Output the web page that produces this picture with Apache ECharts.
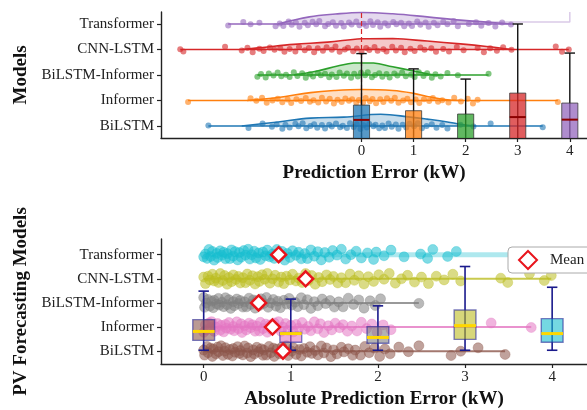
<!DOCTYPE html>
<html>
<head>
<meta charset="utf-8">
<script src="https://cdn.jsdelivr.net/npm/echarts@6/dist/echarts.min.js"></script>
<style>
html, body { margin: 0; padding: 0; background: #fff; }
#chart { width: 587px; height: 410px; }
</style>
</head>
<body>
<div id="chart"></div>
<script>
// rows from bottom to top
const models = ['BiLSTM', 'Informer', 'BiLSTM-Informer', 'CNN-LSTM', 'Transformer'];
const xTicks = [0, 1, 2, 3, 4];

// top panel: signed prediction errors (kW)
const errBiLSTM = [-2.94, -2.17, -1.9, -1.72, -1.63, -1.52, -1.46, -1.38, -1.27, -1.21, -1.13, -1.06, -0.98, -0.91, -0.85, -0.76, -0.7, -0.62, -0.57, -0.49, -0.41, -0.36, -0.28, -0.22, -0.15, -0.09, -0.02, 0.04, 0.1, 0.15, 0.23, 0.27, 0.34, 0.4, 0.45, 0.52, 0.58, 0.66, 0.71, 0.79, 0.86, 0.92, 1.01, 1.08, 1.16, 1.25, 1.35, 1.44, 1.55, 1.65, 1.9, 2.15, 2.48, 3.48];
const errInformer = [-3.33, -2.13, -2.02, -1.91, -1.82, -1.71, -1.61, -1.52, -1.42, -1.35, -1.25, -1.16, -1.07, -0.99, -0.92, -0.83, -0.76, -0.68, -0.61, -0.53, -0.46, -0.38, -0.31, -0.24, -0.18, -0.1, -0.05, 0.03, 0.08, 0.16, 0.21, 0.28, 0.36, 0.42, 0.49, 0.57, 0.64, 0.71, 0.8, 0.88, 0.95, 1.04, 1.11, 1.2, 1.3, 1.37, 1.47, 1.55, 1.67, 1.78, 1.91, 2.04, 2.14, 2.23, 3.77];
const errBiLSTMInformer = [-2.0, -1.93, -1.84, -1.78, -1.69, -1.61, -1.54, -1.45, -1.38, -1.3, -1.23, -1.14, -1.07, -0.99, -0.93, -0.84, -0.78, -0.7, -0.62, -0.57, -0.48, -0.42, -0.34, -0.28, -0.2, -0.14, -0.07, -0.01, 0.07, 0.12, 0.2, 0.26, 0.34, 0.4, 0.48, 0.54, 0.63, 0.69, 0.78, 0.85, 0.95, 1.02, 1.1, 1.19, 1.26, 1.35, 1.42, 1.52, 1.65, 1.85, 2.44];
const errCNNLSTM = [-3.48, -3.42, -2.62, -2.3, -2.19, -2.09, -1.96, -1.88, -1.76, -1.67, -1.56, -1.48, -1.38, -1.27, -1.2, -1.09, -1.01, -0.91, -0.84, -0.74, -0.67, -0.57, -0.5, -0.42, -0.32, -0.26, -0.16, -0.09, 0.0, 0.09, 0.15, 0.25, 0.31, 0.42, 0.48, 0.59, 0.66, 0.76, 0.83, 0.94, 1.02, 1.13, 1.21, 1.34, 1.43, 1.57, 1.68, 1.83, 1.96, 2.23, 2.35, 2.47, 2.6, 2.72, 2.88, 3.73, 3.85, 3.98];
const errTransformer = [-2.56, -2.27, -2.13, -1.96, -1.65, -1.57, -1.5, -1.4, -1.34, -1.26, -1.19, -1.09, -1.03, -0.94, -0.87, -0.81, -0.7, -0.64, -0.55, -0.49, -0.39, -0.34, -0.24, -0.19, -0.1, -0.04, 0.04, 0.09, 0.17, 0.22, 0.31, 0.36, 0.45, 0.51, 0.61, 0.67, 0.76, 0.82, 0.91, 0.97, 1.07, 1.13, 1.23, 1.29, 1.39, 1.46, 1.57, 1.65, 1.77, 1.85, 2.06, 2.2, 2.3, 2.44, 2.57, 2.7, 2.87];

// top panel: half-violin density, [error, height in row units]
const densBiLSTM = [[-2.3, 0], [-1.6, 0.16], [-0.98, 0.31], [-0.34, 0.35], [0.37, 0.46], [0.94, 0.35], [1.26, 0.27], [1.65, 0.16], [1.9, 0.07], [2.2, 0]];
const densInformer = [[-2.2, 0], [-1.6, 0.12], [-0.98, 0.31], [-0.53, 0.39], [0, 0.43], [0.6, 0.39], [1.0, 0.28], [1.26, 0.16], [1.6, 0.04], [1.9, 0]];
const densBiLSTMInformer = [[-1.3, 0], [-0.85, 0.16], [-0.46, 0.35], [-0.15, 0.47], [0.23, 0.47], [0.6, 0.32], [1.0, 0.16], [1.3, 0.03], [1.5, 0]];
const densCNNLSTM = [[-2.3, 0], [-1.9, 0.08], [-1.3, 0.2], [-0.65, 0.29], [0, 0.42], [0.6, 0.43], [1.26, 0.33], [1.9, 0.22], [2.4, 0.12], [2.9, 0]];
const densTransformer = [[-1.6, 0], [-1.0, 0.28], [-0.5, 0.39], [0, 0.45], [0.6, 0.4], [1.26, 0.28], [1.9, 0.15], [2.5, 0.06], [2.9, 0]];

// top panel boxes at x = 0..4: [pos, low, q1, median, q3, high]
const topBoxes = [
  [0, -0.6, -0.6, 0.24, 0.82, 2.84],
  [1, -0.6, -0.6, -0.55, 0.6, 2.24],
  [2, -0.6, -0.6, -0.55, 0.47, 1.84],
  [3, -0.6, -0.6, 0.35, 1.29, 4.0],
  [4, -0.6, -0.6, 0.25, 0.9, 2.86]
];

// bottom panel: absolute prediction errors (kW)
const absBiLSTM = [0.0, 0.01, 0.04, 0.05, 0.08, 0.1, 0.11, 0.14, 0.16, 0.17, 0.2, 0.22, 0.24, 0.25, 0.28, 0.3, 0.33, 0.34, 0.36, 0.39, 0.41, 0.42, 0.45, 0.47, 0.5, 0.51, 0.54, 0.57, 0.58, 0.61, 0.63, 0.66, 0.68, 0.69, 0.72, 0.75, 0.77, 0.8, 0.81, 0.84, 0.87, 0.9, 0.92, 0.95, 0.97, 1.01, 1.03, 1.06, 1.1, 1.12, 1.15, 1.19, 1.22, 1.24, 1.28, 1.31, 1.35, 1.38, 1.41, 1.46, 1.49, 1.53, 1.58, 1.61, 1.66, 1.71, 1.74, 1.8, 1.85, 1.9, 1.96, 2.02, 2.08, 2.14, 2.24, 2.35, 2.47, 2.84, 2.95, 3.15, 3.46];
const absInformer = [0.0, 0.02, 0.03, 0.06, 0.08, 0.09, 0.12, 0.14, 0.16, 0.19, 0.2, 0.23, 0.25, 0.26, 0.29, 0.31, 0.34, 0.35, 0.38, 0.4, 0.43, 0.44, 0.47, 0.49, 0.52, 0.54, 0.56, 0.59, 0.61, 0.64, 0.65, 0.68, 0.71, 0.73, 0.76, 0.78, 0.81, 0.83, 0.86, 0.89, 0.91, 0.94, 0.97, 1.0, 1.03, 1.06, 1.09, 1.13, 1.16, 1.2, 1.23, 1.27, 1.31, 1.34, 1.38, 1.43, 1.47, 1.51, 1.56, 1.6, 1.65, 1.7, 1.76, 1.81, 1.87, 1.93, 1.99, 2.06, 2.15, 3.3, 3.76];
const absBiLSTMInformer = [0.0, 0.01, 0.03, 0.05, 0.07, 0.09, 0.11, 0.12, 0.15, 0.17, 0.18, 0.21, 0.23, 0.25, 0.27, 0.29, 0.31, 0.34, 0.35, 0.38, 0.4, 0.42, 0.45, 0.47, 0.49, 0.52, 0.54, 0.57, 0.59, 0.61, 0.64, 0.66, 0.69, 0.72, 0.74, 0.77, 0.8, 0.83, 0.85, 0.88, 0.92, 0.95, 0.98, 1.01, 1.05, 1.08, 1.12, 1.15, 1.19, 1.23, 1.27, 1.31, 1.36, 1.4, 1.45, 1.5, 1.55, 1.6, 1.66, 1.72, 1.78, 1.84, 1.91, 1.97, 2.03, 2.47];
const absCNNLSTM = [0.0, 0.02, 0.05, 0.07, 0.1, 0.12, 0.14, 0.17, 0.19, 0.22, 0.24, 0.27, 0.29, 0.32, 0.34, 0.37, 0.4, 0.42, 0.45, 0.48, 0.5, 0.53, 0.56, 0.59, 0.62, 0.64, 0.67, 0.7, 0.73, 0.76, 0.79, 0.82, 0.86, 0.89, 0.92, 0.95, 0.99, 1.02, 1.06, 1.09, 1.13, 1.17, 1.2, 1.24, 1.28, 1.32, 1.36, 1.41, 1.45, 1.49, 1.54, 1.58, 1.63, 1.68, 1.73, 1.78, 1.84, 1.89, 1.95, 2.01, 2.07, 2.13, 2.2, 2.27, 2.34, 2.42, 2.5, 2.58, 2.67, 2.76, 2.86, 2.95, 3.41, 3.49, 3.74, 3.91, 3.99];
const absTransformer = [0.0, 0.02, 0.04, 0.06, 0.08, 0.1, 0.12, 0.15, 0.16, 0.19, 0.21, 0.23, 0.25, 0.27, 0.3, 0.32, 0.34, 0.36, 0.39, 0.41, 0.43, 0.46, 0.48, 0.51, 0.53, 0.55, 0.58, 0.6, 0.63, 0.65, 0.68, 0.71, 0.73, 0.76, 0.79, 0.81, 0.84, 0.87, 0.9, 0.93, 0.96, 0.99, 1.02, 1.06, 1.09, 1.12, 1.16, 1.19, 1.23, 1.27, 1.31, 1.35, 1.39, 1.44, 1.48, 1.53, 1.58, 1.63, 1.69, 1.75, 1.81, 1.88, 1.95, 1.98, 2.07, 2.15, 2.3, 2.49, 2.57, 2.63, 2.8, 2.9];
const absMeans = [0.91, 0.79, 0.63, 1.17, 0.86];
const absLineEnd = [3.46, 3.76, 2.47, 3.99, 3.6];

// bottom panel boxes at x = 0..4: [pos, low, q1, median, q3, high]
const bottomBoxes = [
  [0, 0.04, 0.45, 0.82, 1.31, 2.49],
  [1, 0.04, 0.37, 0.73, 0.78, 2.16],
  [2, 0.04, 0.33, 0.57, 1.02, 1.88],
  [3, 0.04, 0.49, 1.06, 1.71, 3.51],
  [4, 0.04, 0.37, 0.73, 1.35, 2.65]
];

const topColors = ['#1f77b4', '#ff7f0e', '#2ca02c', '#d62728', '#9467bd'];
const bottomColors = ['#8c564b', '#e377c2', '#7f7f7f', '#bcbd22', '#17becf'];
const topErr = [errBiLSTM, errInformer, errBiLSTMInformer, errCNNLSTM, errTransformer];
const topDens = [densBiLSTM, densInformer, densBiLSTMInformer, densCNNLSTM, densTransformer];
const bottomAbs = [absBiLSTM, absInformer, absBiLSTMInformer, absCNNLSTM, absTransformer];

// visual jitter for strip points (row units)
const jitter = [0.05, -0.18, 0.22, -0.07, 0.14, -0.24, 0.1, -0.12, 0.19, -0.02, 0.25, -0.2, 0.0, 0.16, -0.15, 0.08, -0.22, 0.12, -0.05, 0.21, -0.1, 0.03, -0.17, 0.24, -0.08, 0.15, -0.25, 0.06, -0.13, 0.18, -0.03, 0.11, -0.19];

const FONT = "'Liberation Serif', 'Times New Roman', serif";

const chart = echarts.init(document.getElementById('chart'));

function boxRender(opts) {
  return function (params, api) {
    const x = api.value(0), lo = api.value(1), q1 = api.value(2);
    const md = api.value(3), q3 = api.value(4), hi = api.value(5);
    const i = params.dataIndex;
    const pLo = api.coord([x, lo]);
    const pHi = api.coord([x, hi]);
    const tl = api.coord([x - opts.w / 2, q3]);
    const br = api.coord([x + opts.w / 2, q1]);
    const m1 = api.coord([x - opts.w / 2, md]);
    const m2 = api.coord([x + opts.w / 2, md]);
    const c1 = api.coord([x - opts.cap / 2, hi]);
    const c2 = api.coord([x + opts.cap / 2, hi]);
    const cw = (c2[0] - c1[0]) / 2;
    const wStyle = { stroke: opts.whisker, lineWidth: opts.whiskerWidth };
    return {
      type: 'group',
      children: [
        { type: 'line', shape: { x1: pLo[0], y1: pLo[1], x2: pHi[0], y2: pHi[1] }, style: wStyle },
        { type: 'line', shape: { x1: pHi[0] - cw, y1: pHi[1], x2: pHi[0] + cw, y2: pHi[1] }, style: wStyle },
        { type: 'line', shape: { x1: pLo[0] - cw, y1: pLo[1], x2: pLo[0] + cw, y2: pLo[1] }, style: wStyle },
        {
          type: 'rect',
          shape: { x: tl[0], y: tl[1], width: br[0] - tl[0], height: br[1] - tl[1] },
          style: { fill: opts.faces[i], opacity: opts.faceOpacity, stroke: opts.edge, lineWidth: opts.edgeWidth }
        },
        { type: 'line', shape: { x1: m1[0], y1: m1[1], x2: m2[0], y2: m2[1] }, style: { stroke: opts.median, lineWidth: opts.medianWidth } }
      ]
    };
  };
}

function densRender(params, api) {
  const r = params.dataIndex;
  const pts = topDens[r].map(d => api.coord([d[0], r + d[1]]));
  const xs = pts.map(p => p[0]), ys = pts.map(p => p[1]);
  const bounds = [[Math.min(...xs), Math.min(...ys)], [Math.max(...xs), Math.max(...ys)]];
  return {
    type: 'group',
    children: [
      { type: 'polygon', shape: { points: pts, smooth: 0.4, smoothConstraint: bounds }, style: { fill: topColors[r], opacity: 0.25 } },
      { type: 'polyline', shape: { points: pts, smooth: 0.4, smoothConstraint: bounds }, style: { stroke: topColors[r], lineWidth: 1.6, fill: null } }
    ]
  };
}

const series = [];

// top: densities
series.push({
  type: 'custom', xAxisIndex: 0, yAxisIndex: 0, z: 1,
  data: models.map((m, i) => [0, i]),
  renderItem: densRender
});

// top: zero reference line and faint bracket at Transformer row
series.push({
  type: 'line', xAxisIndex: 0, yAxisIndex: 0, z: 1, showSymbol: false, silent: true,
  data: [[0, 4.08], [4, 4.08], [4, 4.47]],
  lineStyle: { color: '#9467bd', opacity: 0.35, width: 1.5 },
  markLine: {
    silent: true, symbol: 'none', label: { show: false },
    lineStyle: { color: '#d62728', type: [5, 3], width: 1.2, opacity: 1 },
    data: [{ xAxis: 0 }]
  }
});

models.forEach((m, r) => {
  const vals = topErr[r];
  series.push({
    type: 'line', xAxisIndex: 0, yAxisIndex: 0, z: 2, showSymbol: false, silent: true,
    data: [[Math.min(...vals), r], [Math.max(...vals), r]],
    lineStyle: { color: topColors[r], width: 1.6 }
  });
  series.push({
    type: 'scatter', xAxisIndex: 0, yAxisIndex: 0, z: 3, symbolSize: 6,
    data: vals.map((v, k) => [v, r + jitter[(k + r * 7) % jitter.length] * 0.45]),
    itemStyle: { color: topColors[r], opacity: 0.6 }
  });
});

series.push({
  type: 'custom', xAxisIndex: 0, yAxisIndex: 0, z: 5, clip: true,
  data: topBoxes,
  renderItem: boxRender({
    w: 0.31, cap: 0.2, whisker: '#111', whiskerWidth: 1.4,
    faces: topColors, faceOpacity: 0.75, edge: '#333', edgeWidth: 1,
    median: '#8b0000', medianWidth: 2
  })
});

// bottom panel
models.forEach((m, r) => {
  const vals = bottomAbs[r];
  const isBand = r === 4;
  series.push({
    type: 'line', xAxisIndex: 1, yAxisIndex: 1, z: 2, showSymbol: false, silent: true,
    data: [[0, r], [absLineEnd[r], r]],
    lineStyle: { color: bottomColors[r], width: isBand ? 5 : 2, opacity: isBand ? 0.35 : 0.8 }
  });
  series.push({
    type: 'scatter', xAxisIndex: 1, yAxisIndex: 1, z: 3, symbolSize: 10,
    data: vals.map((v, k) => [v, r + jitter[(k + r * 5) % jitter.length] * 0.9]),
    itemStyle: { color: bottomColors[r], opacity: 0.55, borderColor: bottomColors[r], borderWidth: 0.6 }
  });
});

series.push({
  type: 'custom', xAxisIndex: 1, yAxisIndex: 1, z: 5, clip: true,
  data: bottomBoxes,
  renderItem: boxRender({
    w: 0.25, cap: 0.12, whisker: '#1a1a8c', whiskerWidth: 1.6,
    faces: bottomColors, faceOpacity: 0.6, edge: '#2a2a9a', edgeWidth: 1.4,
    median: '#ffd700', medianWidth: 3
  })
});

series.push({
  name: 'Mean', type: 'scatter', xAxisIndex: 1, yAxisIndex: 1, z: 8,
  symbol: 'diamond', symbolSize: 15,
  data: absMeans.map((v, r) => [v, r]),
  itemStyle: { color: '#fff', borderColor: '#e8141c', borderWidth: 2.5, opacity: 1 }
});

const axisLine = { show: true, onZero: false, lineStyle: { color: '#222', width: 1.4 } };
const axisTick = { show: true, inside: false, length: 4, lineStyle: { color: '#222', width: 1.2 } };
const labelStyle = { fontFamily: FONT, fontSize: 15, color: '#222' };
const nameStyle = { fontFamily: FONT, fontSize: 19, fontWeight: 'bold', color: '#111' };

function xAxisCfg(grid, min, max, name) {
  return {
    type: 'value', gridIndex: grid, min: min, max: max,
    axisLine: axisLine,
    axisTick: Object.assign({ customValues: xTicks }, axisTick),
    axisLabel: Object.assign({ customValues: xTicks, margin: 6 }, labelStyle),
    splitLine: { show: false },
    name: name, nameLocation: 'middle', nameGap: 26, nameTextStyle: nameStyle
  };
}
function yAxisCfg(grid, min, max, name) {
  return {
    type: 'value', gridIndex: grid, min: min, max: max,
    axisLine: axisLine,
    axisTick: Object.assign({ customValues: [0, 1, 2, 3, 4] }, axisTick),
    axisLabel: Object.assign({ customValues: [0, 1, 2, 3, 4], margin: 7, formatter: v => models[Math.round(v)] }, labelStyle),
    splitLine: { show: false },
    name: name, nameLocation: 'middle', nameGap: 127, nameTextStyle: nameStyle
  };
}

chart.setOption({
  animation: false,
  backgroundColor: '#fff',
  textStyle: { fontFamily: FONT },
  grid: [
    { left: 161, top: 12, right: 0, height: 126 },
    { left: 161, top: 239, right: 0, height: 127 }
  ],
  xAxis: [
    xAxisCfg(0, -3.85, 4.33, 'Prediction Error (kW)'),
    xAxisCfg(1, -0.49, 4.4, 'Absolute Prediction Error (kW)')
  ],
  yAxis: [
    yAxisCfg(0, -0.47, 4.47, 'Models'),
    yAxisCfg(1, -0.53, 4.65, 'PV Forecasting Models')
  ],
  legend: {
    data: ['Mean'],
    left: 508, top: 247,
    padding: [3, 12, 3, 10],
    itemWidth: 18, itemHeight: 18, itemGap: 6,
    backgroundColor: '#fff',
    borderColor: '#aaa', borderWidth: 1, borderRadius: 4,
    textStyle: { fontFamily: FONT, fontSize: 15, color: '#222', padding: [0, 0, 0, 8] }
  },
  series: series
});
</script>
</body>
</html>
